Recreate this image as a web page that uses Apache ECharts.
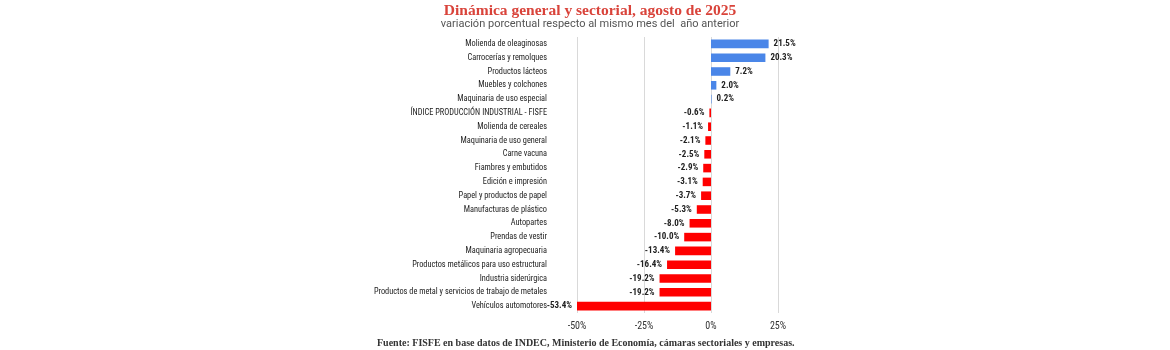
<!DOCTYPE html>
<html><head><meta charset="utf-8">
<script src="https://cdn.jsdelivr.net/npm/echarts@6/dist/echarts.min.js"></script>
<style>html,body{margin:0;padding:0;background:#fff}#c{width:1170px;height:350px}</style>
</head><body><div id="c"></div>
<script>
const categories = [
  "Molienda de oleaginosas","Carrocerías y remolques","Productos lácteos","Muebles y colchones",
  "Maquinaria de uso especial","ÍNDICE PRODUCCIÓN INDUSTRIAL - FISFE","Molienda de cereales",
  "Maquinaria de uso general","Carne vacuna","Fiambres y embutidos","Edición e impresión",
  "Papel y productos de papel","Manufacturas de plástico","Autopartes","Prendas de vestir",
  "Maquinaria agropecuaria","Productos metálicos para uso estructural","Industria siderúrgica",
  "Productos de metal y servicios de trabajo de metales","Vehículos automotores"
];
const values = [21.5,20.3,7.2,2.0,0.2,-0.6,-1.1,-2.1,-2.5,-2.9,-3.1,-3.7,-5.3,-8.0,-10.0,-13.4,-16.4,-19.2,-19.2,-53.4];
const xTicks = [-50,-25,0,25];
const titleText = "Dinámica general y sectorial, agosto de 2025";
const subtitleText = "variación porcentual respecto al mismo mes del  año anterior";
const sourceText = "Fuente: FISFE en base datos de INDEC, Ministerio de Economía, cámaras sectoriales y empresas.";

const narrow = "'Liberation Sans Narrow','Arial Narrow','Roboto Condensed',sans-serif";
const chart = echarts.init(document.getElementById('c'));
chart.setOption({
  animation:false,
  title:[
    {text:titleText,left:585,top:-2,textAlign:'center',
     textStyle:{fontFamily:"'Liberation Serif',serif",fontWeight:'bold',fontSize:15.5,color:'#d9433a'}},
    {text:subtitleText,left:585,top:14,textAlign:'center',
     textStyle:{fontFamily:"Roboto,'Liberation Sans',sans-serif",fontWeight:'normal',fontSize:11,color:'#555'}},
    {text:sourceText,left:372,top:333,
     textStyle:{fontFamily:"'Liberation Serif',serif",fontWeight:'bold',fontSize:10,color:'#333'}}
  ],
  grid:{left:577,right:392,top:37,bottom:37,containLabel:false},
  xAxis:{type:'value',min:-50,max:25,interval:25,
    axisLine:{show:false},axisTick:{show:false},
    splitLine:{lineStyle:{color:'#d9d9d9',width:1}},
    axisLabel:{fontFamily:narrow,fontSize:10,color:'#333',margin:8,
      formatter:v=>xTicks.includes(v)?v+'%':''}},
  yAxis:{type:'category',data:categories,inverse:true,
    axisLine:{show:false},axisTick:{show:false},
    axisLabel:{fontFamily:narrow,fontSize:8.3,color:'#222',margin:30}},
  series:[{type:'bar',barWidth:'62%',
    data:values.map(v=>({value:v,itemStyle:{color:v>=0?'#4a86e8':'#ff0000'},
      label:{position:v>=0?'right':'left'}})),
    label:{show:true,fontFamily:narrow,fontSize:9,fontWeight:'bold',color:'#222',distance:5,
      formatter:p=>p.value.toFixed(1)+'%'}
  }]
});
</script></body></html>
